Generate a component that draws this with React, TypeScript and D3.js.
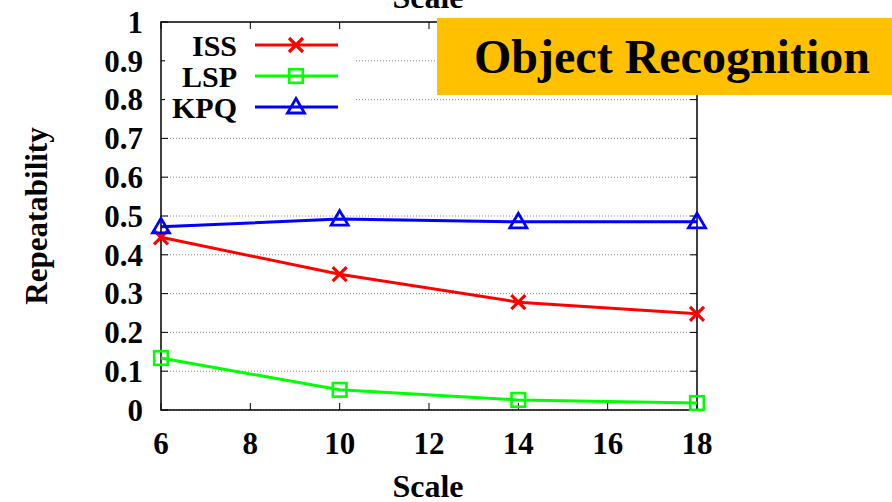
import React from "react";
import * as d3 from "d3";

const scales = [6, 10, 14, 18];
const issValues = [0.445, 0.35, 0.278, 0.248];
const lspValues = [0.134, 0.052, 0.026, 0.018];
const kpqValues = [0.472, 0.492, 0.485, 0.485];
const xTicks = [6, 8, 10, 12, 14, 16, 18];
const yTicks = [0, 0.1, 0.2, 0.3, 0.4, 0.5, 0.6, 0.7, 0.8, 0.9, 1];

const series = [
  { name: "ISS", values: issValues, color: "#ff0000", marker: "cross" },
  { name: "LSP", values: lspValues, color: "#00ff00", marker: "square" },
  { name: "KPQ", values: kpqValues, color: "#0000ff", marker: "triangle" },
];

const font = "'Liberation Serif', 'Times New Roman', serif";

function Marker({ type, x, y, color }: { type: string; x: number; y: number; color: string }) {
  if (type === "cross") {
    const s = 7;
    return (
      <path
        d={`M${x - s},${y - s}L${x + s},${y + s}M${x - s},${y + s}L${x + s},${y - s}`}
        stroke={color}
        strokeWidth={3.2}
        fill="none"
      />
    );
  }
  if (type === "square") {
    const s = 6.8;
    return (
      <rect x={x - s} y={y - s} width={s * 2} height={s * 2} stroke={color} strokeWidth={2.6} fill="none" />
    );
  }
  return (
    <path
      d={`M${x},${y - 8.5}L${x + 8.5},${y + 6}L${x - 8.5},${y + 6}Z`}
      stroke={color}
      strokeWidth={2.8}
      fill="none"
    />
  );
}

export default function App() {
  const W = 892, H = 502;
  const left = 161, right = 697, top = 22, bottom = 410;
  const x = d3.scaleLinear().domain([6, 18]).range([left, right]);
  const y = d3.scaleLinear().domain([0, 1]).range([bottom, top]);
  const line = d3
    .line<number>()
    .x((d, i) => x(scales[i]))
    .y((d) => y(d));

  return (
    <svg width={W} height={H} style={{ position: "absolute", left: 0, top: 0, background: "#fff" }}>
      {/* grid */}
      {yTicks.slice(0, -1).map((t) => (
        <line key={"g" + t} x1={left} x2={right} y1={y(t)} y2={y(t)} stroke="#888" strokeDasharray="1,2" strokeWidth={1} />
      ))}
      {/* ticks */}
      {yTicks.map((t) => (
        <g key={"yt" + t}>
          <line x1={left} x2={left + 7} y1={y(t)} y2={y(t)} stroke="#000" />
          <line x1={right - 7} x2={right} y1={y(t)} y2={y(t)} stroke="#000" />
          <text x={left - 18} y={y(t)} dy="0.35em" textAnchor="end" fontFamily={font} fontWeight="bold" fontSize={31}>
            {t}
          </text>
        </g>
      ))}
      {xTicks.map((t) => (
        <g key={"xt" + t}>
          <line x1={x(t)} x2={x(t)} y1={bottom} y2={bottom - 7} stroke="#000" />
          <line x1={x(t)} x2={x(t)} y1={top} y2={top + 7} stroke="#000" />
          <text x={x(t)} y={bottom + 44} textAnchor="middle" fontFamily={font} fontWeight="bold" fontSize={31}>
            {t}
          </text>
        </g>
      ))}
      <rect x={left} y={top} width={right - left} height={bottom - top} fill="none" stroke="#000" strokeWidth={1.5} />
      {/* legend background */}
      <rect x={left + 4} y={top + 8} width={190} height={104} fill="#fff" />
      {series.map((s, i) => {
        const ly = 45 + i * 31;
        return (
          <g key={"l" + s.name}>
            <text x={237} y={ly} dy="0.36em" textAnchor="end" fontFamily={font} fontWeight="bold" fontSize={30}>
              {s.name}
            </text>
            <line x1={255} x2={338} y1={ly} y2={ly} stroke={s.color} strokeWidth={3} />
            <Marker type={s.marker} x={296} y={ly} color={s.color} />
          </g>
        );
      })}
      {/* series */}
      {series.map((s) => (
        <g key={s.name}>
          <path d={line(s.values) || ""} fill="none" stroke={s.color} strokeWidth={3} />
          {s.values.map((v, i) => (
            <Marker key={i} type={s.marker} x={x(scales[i])} y={y(v)} color={s.color} />
          ))}
        </g>
      ))}
      {/* axis titles */}
      <text x={428} y={8} textAnchor="middle" fontFamily={font} fontWeight="bold" fontSize={32}>
        Scale
      </text>
      <text x={428} y={497} textAnchor="middle" fontFamily={font} fontWeight="bold" fontSize={32}>
        Scale
      </text>
      <text
        transform={`translate(47,216) rotate(-90)`}
        textAnchor="middle"
        fontFamily={font}
        fontWeight="bold"
        fontSize={31}
      >
        Repeatability
      </text>
      {/* title box */}
      <rect x={437} y={18} width={455} height={77} fill="#ffc000" />
      <text x={672} y={73} textAnchor="middle" fontFamily={font} fontWeight="bold" fontSize={48}>
        Object Recognition
      </text>
    </svg>
  );
}
